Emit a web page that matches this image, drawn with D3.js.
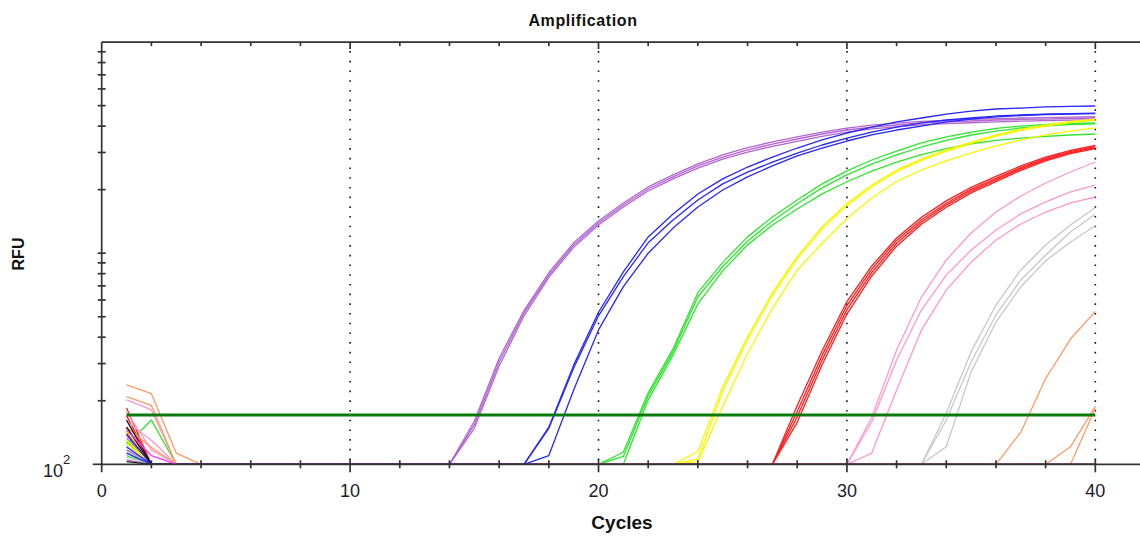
<!DOCTYPE html>
<html><head><meta charset="utf-8">
<script src="https://cdn.jsdelivr.net/npm/d3@7"></script>
<style>
html,body{margin:0;padding:0;background:#fff;}
svg{display:block;font-family:"Liberation Sans",Arial,sans-serif;}
</style></head><body>
<svg id="chart" width="1140" height="538"></svg>
<script>
// ---------- data ----------
const cycles = [1,2,3,4,5,6,7,8,9,10,11,12,13,14,15,16,17,18,19,20,
                21,22,23,24,25,26,27,28,29,30,31,32,33,34,35,36,37,38,39,40];
const xTickLabels = [0,10,20,30,40];
const yLabelValue = 100;
const thresholdRFU = 171;
// RFU per cycle (0 = below the visible range)
const purpleA = [133,0,0,0,0,0,0,0,0,0, 0,0,0,100,160,318,535,808,1120,1420,
  1730,2060,2350,2650,2920,3160,3370,3560,3750,3910, 4040,4130,4210,4260,4300,4340,4370,4390,4410,4430];
const purpleB = [117,0,0,0,0,0,0,0,0,0, 0,0,0,100,154,305,521,788,1094,1390,
  1692,2015,2300,2590,2850,3083,3290,3475,3670,3833, 3960,4049,4140,4185,4230,4275,4300,4320,4345,4370];
const purpleC = [105,0,0,0,0,0,0,0,0,0, 0,0,0,100,148,292,505,768,1068,1360,
  1655,1970,2250,2530,2790,3010,3210,3390,3580,3750, 3880,3970,4060,4110,4150,4190,4220,4250,4270,4290];
const blueA = [138,0,0,0,0,0,0,0,0,0, 0,0,0,0,0,0,100,150,295,525,
  815,1194,1532,1908,2250,2560,2850,3150,3440,3710, 3960,4185,4370,4560,4710,4820,4870,4930,4960,4980];
const blueB = [121,0,0,0,0,0,0,0,0,0, 0,0,0,0,0,0,100,148,286,505,
  775,1120,1437,1787,2130,2420,2700,2980,3255,3510, 3750,3960,4140,4275,4370,4465,4514,4560,4585,4610];
const blueC = [113,0,0,0,0,0,0,0,0,0, 0,0,0,0,0,0,100,110,225,433,
  695,1000,1315,1655,1993,2300,2590,2890,3150,3400, 3631,3833,4000,4185,4320,4420,4490,4540,4560,4585];
const greenA = [123,162,0,0,0,0,0,0,0,0, 0,0,0,0,0,0,0,0,0,100,
  114,218,352,650,905,1195,1485,1787,2130,2455, 2764,3045,3330,3555,3750,3900,4000,4075,4120,4140];
const greenB = [128,0,0,0,0,0,0,0,0,0, 0,0,0,0,0,0,0,0,0,100,
  109,211,342,620,865,1140,1420,1715,2040,2350, 2640,2920,3185,3420,3630,3790,3920,4010,4070,4095];
const greenC = [110,0,0,0,0,0,0,0,0,0, 0,0,0,0,0,0,0,0,0,0,
  100,202,330,575,825,1095,1360,1620,1910,2180, 2450,2700,2930,3130,3300,3420,3510,3580,3630,3670];
const yellowA = [143,0,0,0,0,0,0,0,0,0, 0,0,0,0,0,0,0,0,0,0,
  0,0,100,115,233,403,650,965,1336,1720, 2104,2479,2795,3083,3360,3631,3870,4049,4210,4320];
const yellowB = [125,0,0,0,0,0,0,0,0,0, 0,0,0,0,0,0,0,0,0,0,
  0,0,100,106,222,390,632,942,1305,1685, 2065,2435,2750,3040,3315,3585,3820,4000,4160,4270];
const yellowC = [130,0,0,0,0,0,0,0,0,0, 0,0,0,0,0,0,0,0,0,0,
  0,0,0,103,188,336,548,833,1115,1460, 1825,2190,2479,2735,2985,3220,3438,3631,3790,3920];
const redA = [185,0,0,0,0,0,0,0,0,0, 0,0,0,0,0,0,0,0,0,0,
  0,0,0,0,0,0,100,190,345,590, 870,1180,1480,1770,2050,2310,2590,2850,3070,3240];
const redB = [170,0,0,0,0,0,0,0,0,0, 0,0,0,0,0,0,0,0,0,0,
  0,0,0,0,0,0,100,178,328,565, 840,1150,1440,1725,2005,2260,2545,2810,3030,3200];
const redC = [150,0,0,0,0,0,0,0,0,0, 0,0,0,0,0,0,0,0,0,0,
  0,0,0,0,0,0,100,168,312,540, 810,1115,1405,1690,1970,2225,2510,2775,2995,3165];
const redD = [140,0,0,0,0,0,0,0,0,0, 0,0,0,0,0,0,0,0,0,0,
  0,0,0,0,0,0,100,158,296,515, 780,1080,1370,1650,1930,2185,2470,2735,2960,3130];
const pinkA = [202,181,0,0,0,0,0,0,0,0, 0,0,0,0,0,0,0,0,0,0,
  0,0,0,0,0,0,0,0,0,100, 167,348,620,929,1247,1567,1866,2150,2425,2704];
const pinkB = [177,117,0,0,0,0,0,0,0,0, 0,0,0,0,0,0,0,0,0,0,
  0,0,0,0,0,0,0,0,0,100, 159,312,538,788,1036,1288,1535,1750,1950,2104];
const pinkC = [160,130,0,0,0,0,0,0,0,0, 0,0,0,0,0,0,0,0,0,0,
  0,0,0,0,0,0,0,0,0,100, 113,225,433,669,907,1155,1375,1567,1730,1846];
const grayA = [120,0,0,0,0,0,0,0,0,0, 0,0,0,0,0,0,0,0,0,0,
  0,0,0,0,0,0,0,0,0,0, 0,0,100,175,341,568,833,1094,1360,1645];
const grayB = [115,0,0,0,0,0,0,0,0,0, 0,0,0,0,0,0,0,0,0,0,
  0,0,0,0,0,0,0,0,0,0, 0,0,100,162,305,510,746,981,1260,1530];
const grayC = [108,0,0,0,0,0,0,0,0,0, 0,0,0,0,0,0,0,0,0,0,
  0,0,0,0,0,0,0,0,0,0, 0,0,100,121,274,472,693,920,1130,1350];
const orangeA = [238,216,113,0,0,0,0,0,0,0, 0,0,0,0,0,0,0,0,0,0,
  0,0,0,0,0,0,0,0,0,0, 0,0,0,0,0,100,142,255,392,530];
const orangeB = [209,190,0,0,0,0,0,0,0,0, 0,0,0,0,0,0,0,0,0,0,
  0,0,0,0,0,0,0,0,0,0, 0,0,0,0,0,0,0,100,121,188];
const orangeC = [150,120,0,0,0,0,0,0,0,0, 0,0,0,0,0,0,0,0,0,0,
  0,0,0,0,0,0,0,0,0,0, 0,0,0,0,0,0,0,0,100,184];
const ntcA = [162,0,0,0,0,0,0,0,0,0, 0,0,0,0,0,0,0,0,0,0, 0,0,0,0,0,0,0,0,0,0, 0,0,0,0,0,0,0,0,0,0];
const ntcB = [150,0,0,0,0,0,0,0,0,0, 0,0,0,0,0,0,0,0,0,0, 0,0,0,0,0,0,0,0,0,0, 0,0,0,0,0,0,0,0,0,0];
const ntcC = [103,0,0,0,0,0,0,0,0,0, 0,0,0,0,0,0,0,0,0,0, 0,0,0,0,0,0,0,0,0,0, 0,0,0,0,0,0,0,0,0,0];
const magentaA = [145,110,0,0,0,0,0,0,0,0, 0,0,0,0,0,0,0,0,0,0, 0,0,0,0,0,0,0,0,0,0, 0,0,0,0,0,0,0,0,0,0];

const seriesList = [
  {group:"purple", values:purpleA},{group:"purple", values:purpleB},{group:"purple", values:purpleC},
  {group:"green", values:greenA},{group:"green", values:greenB},{group:"green", values:greenC},
  {group:"yellow", values:yellowA},{group:"yellow", values:yellowB},{group:"yellow", values:yellowC},
  {group:"red", values:redA},{group:"red", values:redB},{group:"red", values:redC},{group:"red", values:redD},
  {group:"pink", values:pinkA},{group:"pink", values:pinkB},{group:"pink", values:pinkC},
  {group:"gray", values:grayA},{group:"gray", values:grayB},{group:"gray", values:grayC},
  {group:"orange", values:orangeA},{group:"orange", values:orangeB},{group:"orange", values:orangeC},
  {group:"blue", values:blueA},{group:"blue", values:blueB},{group:"blue", values:blueC},
  {group:"black", values:ntcA},{group:"black", values:ntcB},{group:"black", values:ntcC},
  {group:"magenta", values:magentaA}
];

// ---------- styles ----------
const groupColors = {purple:"#b266cf", blue:"#2626ff", green:"#2ee62e", yellow:"#f7f700",
  red:"#ff1f1f", pink:"#ff99cc", gray:"#c8c8c8", orange:"#ff9966", black:"#1a1a1a", magenta:"#ff33ff"};
const axisColor = "#333";

// ---------- chart ----------
const svg = d3.select("#chart");
const x = d3.scaleLinear().domain([0, 42]).range([101.7, 1145]);
const y = d3.scaleLog().domain([100, 10000]).range([464.3, 42.1]);
const clampV = v => Math.max(100, Math.min(10000, v));

svg.append("defs").append("clipPath").attr("id","plotclip")
  .append("rect").attr("x", x(0)).attr("y", y(10000)-1)
  .attr("width", x(42)-x(0)).attr("height", y(100)-y(10000)+2);

// gridlines (dotted) at major x ticks
svg.append("g").selectAll("line").data(xTickLabels.filter(d => d > 0)).join("line")
  .attr("x1", d => x(d)).attr("x2", d => x(d))
  .attr("y1", y(10000)+9).attr("y2", y(100)-3)
  .attr("stroke", "#111").attr("stroke-width", 1.6)
  .attr("stroke-dasharray", "1.6 8.1");

// curves
const line = d3.line().x((d,i) => x(cycles[i])).y(d => y(clampV(d)));
svg.append("g").attr("clip-path","url(#plotclip)")
  .selectAll("path").data(seriesList).join("path")
  .attr("d", d => line(d.values))
  .attr("fill","none")
  .attr("stroke", d => groupColors[d.group])
  .attr("stroke-width", 1.3)
  .attr("stroke-linejoin","round");

// threshold
svg.append("line")
  .attr("x1", x(cycles[0])).attr("x2", x(cycles[cycles.length-1]))
  .attr("y1", y(thresholdRFU)).attr("y2", y(thresholdRFU))
  .attr("stroke", "#0a7a0a").attr("stroke-width", 3);

// axes
const ax = svg.append("g").attr("stroke", axisColor).attr("stroke-width", 1.7);
const x0 = x(0), yb = y(100), yt = y(10000);
ax.append("line").attr("x1", x0).attr("x2", x(42)).attr("y1", yb).attr("y2", yb);
ax.append("line").attr("x1", x0).attr("x2", x(42)).attr("y1", yt).attr("y2", yt);
ax.append("line").attr("x1", x0).attr("x2", x0).attr("y1", yt).attr("y2", yb + 8);
ax.append("line").attr("x1", x0 - 9).attr("x2", x0).attr("y1", yb).attr("y2", yb);

const evenCycles = d3.range(2, 42, 2).filter(d => d % 10 !== 0);
// bottom minor + major ticks
ax.append("g").selectAll("line").data(evenCycles).join("line")
  .attr("x1", d => x(d)).attr("x2", d => x(d)).attr("y1", yb - 4).attr("y2", yb + 4);
ax.append("g").selectAll("line").data(xTickLabels.filter(d => d > 0)).join("line")
  .attr("x1", d => x(d)).attr("x2", d => x(d)).attr("y1", yb - 5).attr("y2", yb + 8);
// top ticks
ax.append("g").selectAll("line").data(evenCycles).join("line")
  .attr("x1", d => x(d)).attr("x2", d => x(d)).attr("y1", yt).attr("y2", yt + 4);
ax.append("g").selectAll("line").data(xTickLabels.filter(d => d > 0)).join("line")
  .attr("x1", d => x(d)).attr("x2", d => x(d)).attr("y1", yt).attr("y2", yt + 7);
// left minor ticks
const yMinor = y.ticks().filter(v => v > 100 && v < 10000);
ax.append("g").selectAll("line").data(yMinor).join("line")
  .attr("x1", x0 - 4).attr("x2", x0 + 4).attr("y1", d => y(d)).attr("y2", d => y(d));

// tick labels
svg.append("g").selectAll("text").data(xTickLabels).join("text")
  .attr("x", d => x(d)).attr("y", 497)
  .attr("text-anchor","middle").attr("font-size", 18).attr("fill", "#1c1c2c")
  .text(d => d);
svg.append("text").attr("x", 63).attr("y", y(yLabelValue) + 13)
  .attr("text-anchor","end").attr("font-size", 18).attr("fill","#1c1c2c").text("10");
svg.append("text").attr("x", 63).attr("y", y(yLabelValue) + 0)
  .attr("font-size", 13).attr("fill","#1c1c2c").text("2");

// titles
svg.append("text").attr("x", 583).attr("y", 26).attr("text-anchor","middle")
  .attr("font-size", 16).attr("font-weight","bold").attr("letter-spacing", 0.6)
  .attr("fill","#111").text("Amplification");
svg.append("text").attr("x", 622).attr("y", 529).attr("text-anchor","middle")
  .attr("font-size", 19).attr("font-weight","bold").attr("fill","#111").text("Cycles");
svg.append("text").attr("transform", "translate(24,254) rotate(-90)").attr("text-anchor","middle")
  .attr("font-size", 16).attr("font-weight","bold").attr("fill","#111").text("RFU");
</script>
</body></html>
